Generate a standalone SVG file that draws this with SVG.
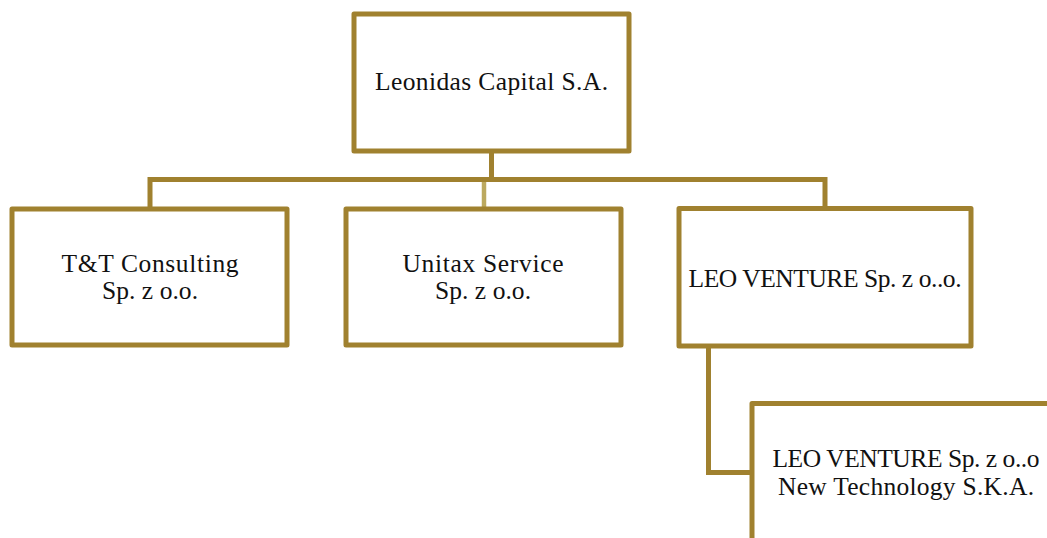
<svg xmlns="http://www.w3.org/2000/svg" width="1047" height="538" viewBox="0 0 1047 538">
<style>
.box{fill:#fff;stroke:#A0812F;stroke-width:5;stroke-linejoin:round}
.ln{fill:none;stroke:#A0812F;stroke-width:5}
.lt{fill:none;stroke:#BCA95F;stroke-width:4.5}
text{font-family:"Liberation Serif","DejaVu Serif",serif;font-size:25.5px;fill:#111;text-anchor:middle}
</style>
<rect width="1047" height="538" fill="#fff"/>
<g id="connectors">
<path class="ln" d="M491.5 151V179.5"/>
<path class="ln" d="M150 209V179.5H825V209"/>
<path class="lt" d="M484 182V207"/>
<path class="ln" d="M708.5 346V472.5H752"/>
</g>
<g id="leonidas">
<rect class="box" x="354" y="14" width="275" height="137"/>
<text x="491.5" y="90" textLength="233" lengthAdjust="spacing">Leonidas Capital S.A.</text>
</g>
<g id="tt">
<rect class="box" x="12" y="209" width="275" height="136"/>
<text x="150" y="272" textLength="177" lengthAdjust="spacing">T&amp;T Consulting</text>
<text x="150" y="299" textLength="96" lengthAdjust="spacing">Sp. z o.o.</text>
</g>
<g id="unitax">
<rect class="box" x="346" y="209" width="275" height="136"/>
<text x="483" y="272" textLength="161" lengthAdjust="spacing">Unitax Service</text>
<text x="483" y="299" textLength="96" lengthAdjust="spacing">Sp. z o.o.</text>
</g>
<g id="leoventure">
<rect class="box" x="679" y="208.5" width="292" height="137.5"/>
<text x="825" y="287" textLength="273" lengthAdjust="spacing">LEO VENTURE Sp. z o..o.</text>
</g>
<g id="leonewtech">
<rect class="box" x="752" y="403.5" width="310" height="160"/>
<text x="906" y="467" textLength="267" lengthAdjust="spacing">LEO VENTURE Sp. z o..o</text>
<text x="906" y="494.5" textLength="256" lengthAdjust="spacing">New Technology S.K.A.</text>
</g>
</svg>
